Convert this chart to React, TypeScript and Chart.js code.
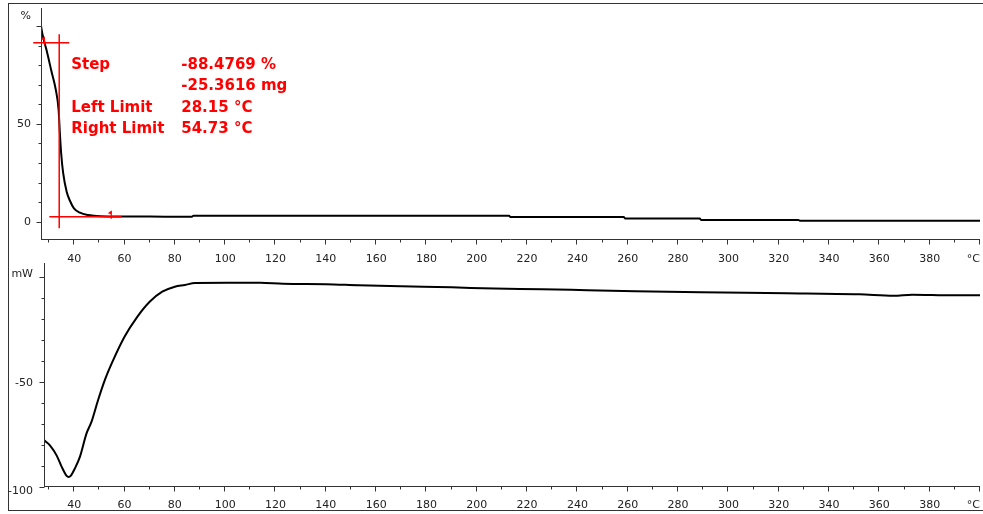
import React, { useEffect, useRef } from "react";
import { Chart, registerables } from "chart.js";

Chart.register(...registerables);

// ---------- data ----------
const TGA_TEMP = [26.8, 27.45, 29.0, 31.0, 32.7, 33.8, 34.3, 34.8, 35.6, 37.0, 38.3, 39.9, 42.3, 45.6, 50.2, 70, 86.8, 87.4, 150, 212.8, 213.4, 235, 258.4, 259, 275, 288.6, 289.2, 310, 327.8, 328.4, 400];
const TGA_MASS = [100, 95.4, 87.7, 76.6, 67.3, 57.1, 45.3, 35.1, 24.9, 15.3, 10.7, 6.8, 4.6, 3.4, 2.8, 2.6, 2.55, 3.1, 3.1, 3.1, 2.4, 2.4, 2.4, 1.65, 1.65, 1.65, 0.9, 0.9, 0.9, 0.55, 0.55];

const DSC_TEMP = [28.0, 30.35, 33.0, 35.0, 37.0, 37.8, 38.6, 40.3, 42.3, 44.9, 46.9, 49.5, 52.2, 55, 60, 65, 70, 75, 80, 84, 88, 101, 114, 123, 140, 153, 170, 190, 207, 226, 244, 263, 289, 323, 352, 365.7, 373, 389, 400];
const DSC_HEAT = [-77.6, -80.1, -84.9, -90.3, -94.7, -95.2, -94.7, -91.1, -85.5, -74.4, -68.8, -58.5, -48.9, -40.8, -28.3, -18.9, -11.6, -6.8, -4.4, -3.6, -2.6, -2.5, -2.5, -3.0, -3.2, -3.7, -4.2, -4.7, -5.3, -5.6, -6.1, -6.6, -7.1, -7.5, -8.0, -8.7, -8.2, -8.5, -8.5];

const X_TICK_LABELS = [40, 60, 80, 100, 120, 140, 160, 180, 200, 220, 240, 260, 280, 300, 320, 340, 360, 380];
const X_UNIT = "°C";
const TGA_Y_LABELS = [0, 50];
const TGA_UNIT = "%";
const DSC_Y_LABELS = [-50, -100];
const DSC_UNIT = "mW";

// step evaluation annotation
const STEP_ROWS = [
  ["Step", "-88.4769 %"],
  ["", "-25.3616 mg"],
  ["Left Limit", "28.15 °C"],
  ["Right Limit", "54.73 °C"],
];
const LEFT_LIMIT = 28.15;
const RIGHT_LIMIT = 54.73;
const STEP_TOP_LEVEL = 91.5;
const STEP_BOTTOM_LEVEL = 2.55;
const STEP_MID_TEMP = 34.04;
const TOP_LINE_RANGE = [23.7, 38.0];
const BOTTOM_LINE_RANGE = [30.1, 58.8];
const VERT_LINE_RANGE = [-3.4, 95.8];

const W = 983;
const H = 514;
const AXIS_COLOR = "#333";
const TEXT_COLOR = "#222";
const RED = "#ff0000";
const TICK_FONT = '11px "DejaVu Sans"';

function drawXAxis(ctx: CanvasRenderingContext2D, chart: any, labelY: number) {
  const a = chart.chartArea;
  const x = chart.scales.x;
  const ay = a.bottom - 0.5;
  ctx.beginPath();
  ctx.moveTo(a.left, ay);
  ctx.lineTo(a.right, ay);
  for (let v = 30; v <= 400; v += 10) {
    const px = Math.round(x.getPixelForValue(v)) - 0.5;
    const len = v % 20 === 0 ? 5 : 3;
    ctx.moveTo(px, ay);
    ctx.lineTo(px, ay + len);
  }
  ctx.stroke();
  ctx.fillStyle = TEXT_COLOR;
  ctx.font = TICK_FONT;
  ctx.textBaseline = "middle";
  ctx.textAlign = "center";
  X_TICK_LABELS.forEach((v) => {
    ctx.fillText(String(v), x.getPixelForValue(v), labelY);
  });
  ctx.textAlign = "right";
  ctx.fillText(X_UNIT, a.right, labelY);
}

function drawYAxis(
  ctx: CanvasRenderingContext2D,
  chart: any,
  from: number,
  to: number,
  majors: number[],
  labels: number[],
  unit: string,
  unitY: number,
  labelRight: number,
  labelShift: (v: number) => number
) {
  const a = chart.chartArea;
  const y = chart.scales.y;
  const ax = a.left + 0.5;
  ctx.beginPath();
  ctx.moveTo(ax, a.top);
  ctx.lineTo(ax, a.bottom);
  for (let v = from; v <= to; v += 10) {
    const py = Math.round(y.getPixelForValue(v)) + 0.5;
    const len = majors.includes(v) ? 5 : 3;
    ctx.moveTo(ax - len, py);
    ctx.lineTo(ax, py);
  }
  ctx.stroke();
  ctx.fillStyle = TEXT_COLOR;
  ctx.font = TICK_FONT;
  ctx.textBaseline = "middle";
  ctx.textAlign = "right";
  labels.forEach((v) => {
    ctx.fillText(String(v), labelRight, y.getPixelForValue(v) + labelShift(v));
  });
  ctx.fillText(unit, labelRight, unitY);
}

const tgaAxesPlugin = {
  id: "tgaAxes",
  afterDraw(chart: any) {
    const ctx = chart.ctx as CanvasRenderingContext2D;
    const x = chart.scales.x;
    const y = chart.scales.y;
    ctx.save();
    ctx.strokeStyle = AXIS_COLOR;
    ctx.lineWidth = 1;
    drawXAxis(ctx, chart, 259);
    drawYAxis(ctx, chart, 0, 100, [0, 50, 100], TGA_Y_LABELS, TGA_UNIT, 16, 31, () => 0.5);

    // step annotation
    ctx.strokeStyle = RED;
    ctx.fillStyle = RED;
    ctx.lineWidth = 1.5;
    ctx.beginPath();
    const yTop = y.getPixelForValue(STEP_TOP_LEVEL);
    const yBot = y.getPixelForValue(STEP_BOTTOM_LEVEL);
    const xMid = x.getPixelForValue(STEP_MID_TEMP);
    ctx.moveTo(x.getPixelForValue(TOP_LINE_RANGE[0]), yTop);
    ctx.lineTo(x.getPixelForValue(TOP_LINE_RANGE[1]), yTop);
    ctx.moveTo(x.getPixelForValue(BOTTOM_LINE_RANGE[0]), yBot);
    ctx.lineTo(x.getPixelForValue(BOTTOM_LINE_RANGE[1]), yBot);
    ctx.moveTo(xMid, y.getPixelForValue(VERT_LINE_RANGE[1]));
    ctx.lineTo(xMid, y.getPixelForValue(VERT_LINE_RANGE[0]));
    ctx.stroke();

    // limit markers
    const marker = (t: number, lvl: number) => {
      const px = x.getPixelForValue(t);
      const py = y.getPixelForValue(lvl);
      ctx.lineWidth = 1.2;
      ctx.beginPath();
      ctx.moveTo(px, py - 6);
      ctx.lineTo(px, py + 2);
      ctx.stroke();
      ctx.beginPath();
      ctx.moveTo(px, py - 6);
      ctx.lineTo(px - 3.5, py - 3.5);
      ctx.lineTo(px, py - 2.5);
      ctx.closePath();
      ctx.fill();
    };
    marker(LEFT_LIMIT, STEP_TOP_LEVEL);
    marker(RIGHT_LIMIT, STEP_BOTTOM_LEVEL);

    ctx.font = 'bold 15px "DejaVu Sans"';
    ctx.textBaseline = "alphabetic";
    ctx.textAlign = "left";
    const tx = xMid + 12;
    const vx = xMid + 122;
    STEP_ROWS.forEach((row, i) => {
      const by = yTop + 26.5 + i * 21.2;
      if (row[0]) ctx.fillText(row[0], tx, by);
      ctx.fillText(row[1], vx, by);
    });
    ctx.restore();
  },
};

const dscAxesPlugin = {
  id: "dscAxes",
  afterDraw(chart: any) {
    const ctx = chart.ctx as CanvasRenderingContext2D;
    ctx.save();
    ctx.strokeStyle = AXIS_COLOR;
    ctx.lineWidth = 1;
    drawXAxis(ctx, chart, 505);
    const y = chart.scales.y;
    drawYAxis(ctx, chart, -100, 0, [0, -50, -100], DSC_Y_LABELS, DSC_UNIT, y.getPixelForValue(0) - 3.5, 33, (v) => (v === -100 ? 4 : 0.5));
    ctx.restore();
  },
};

export default function App() {
  const topRef = useRef<HTMLCanvasElement>(null);
  const botRef = useRef<HTMLCanvasElement>(null);

  useEffect(() => {
    const common = {
      animation: false as const,
      responsive: false,
      events: [] as any[],
      plugins: { legend: { display: false }, tooltip: { enabled: false } },
    };
    const top = new Chart(topRef.current!, {
      type: "line",
      data: {
        datasets: [
          {
            data: TGA_TEMP.map((t, i) => ({ x: t, y: TGA_MASS[i] })),
            borderColor: "#000",
            borderWidth: 2,
            pointRadius: 0,
            cubicInterpolationMode: "monotone",
            fill: false,
          },
        ],
      },
      options: {
        ...common,
        layout: { padding: { left: 41, top: 8, right: 3, bottom: H - 240 } },
        scales: {
          x: { type: "linear", min: 26.8, max: 400, display: false },
          y: { type: "linear", min: -9.35, max: 109.2, display: false },
        },
      },
      plugins: [tgaAxesPlugin],
    } as any);
    const bot = new Chart(botRef.current!, {
      type: "line",
      data: {
        datasets: [
          {
            data: DSC_TEMP.map((t, i) => ({ x: t, y: DSC_HEAT[i] })),
            borderColor: "#000",
            borderWidth: 2,
            pointRadius: 0,
            cubicInterpolationMode: "monotone",
            fill: false,
          },
        ],
      },
      options: {
        ...common,
        layout: { padding: { left: 44, top: 263, right: 3, bottom: H - 487 } },
        scales: {
          x: { type: "linear", min: 28.0, max: 400, display: false },
          y: { type: "linear", min: -100, max: 6.9, display: false },
        },
      },
      plugins: [dscAxesPlugin],
    } as any);
    return () => {
      top.destroy();
      bot.destroy();
    };
  }, []);

  const canvasStyle: React.CSSProperties = { position: "absolute", left: 0, top: 0, width: W, height: H, display: "block" };
  return (
    <div style={{ position: "absolute", left: 0, top: 0, width: W, height: H, background: "#fff", overflow: "hidden" }}>
      <div
        style={{
          position: "absolute",
          left: 8,
          top: 3,
          width: 990,
          height: 506,
          borderTop: "1px solid #333",
          borderLeft: "1px solid #333",
          borderBottom: "1px solid #333",
        }}
      />
      <canvas ref={topRef} width={W} height={H} style={canvasStyle} />
      <canvas ref={botRef} width={W} height={H} style={canvasStyle} />
    </div>
  );
}
